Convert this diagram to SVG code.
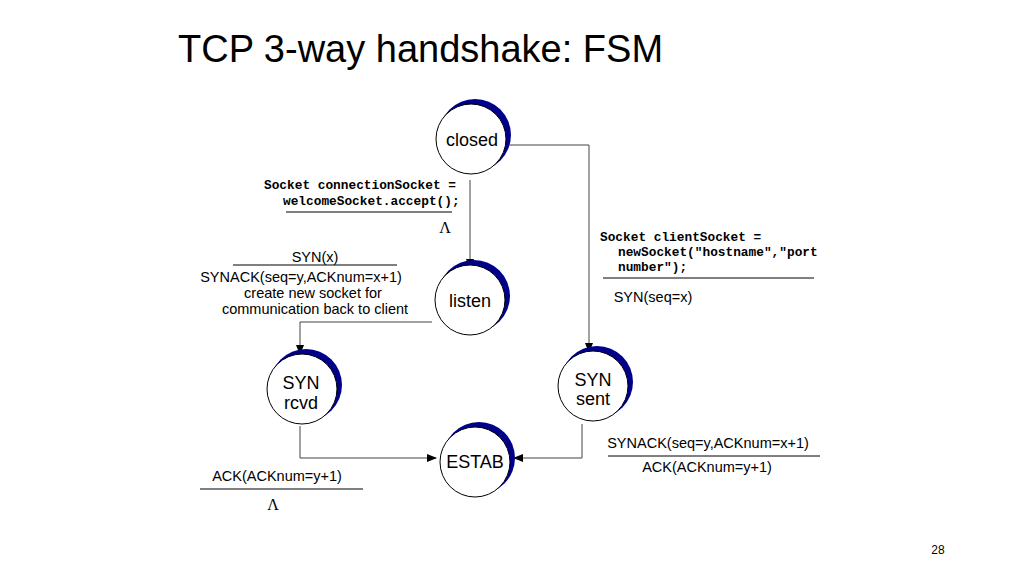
<svg xmlns="http://www.w3.org/2000/svg" width="1024" height="576" viewBox="0 0 1024 576">
<defs>
<marker id="ah" markerWidth="10" markerHeight="8" refX="9" refY="4" orient="auto" markerUnits="userSpaceOnUse"><path d="M0,0 L10,4 L0,8 z" fill="#000"/></marker>
</defs>
<style>
.sh{fill:#00008b}
.c{fill:#fff;stroke:#000;stroke-width:1}
.t{font-family:"Liberation Sans",Arial,sans-serif;font-size:18px;fill:#000;text-anchor:middle}
.l{font-family:"Liberation Sans",Arial,sans-serif;font-size:14.5px;fill:#000;text-anchor:middle}
.m{font-family:"Liberation Mono","Courier New",monospace;font-size:12.8px;font-weight:bold;fill:#000}
.ln{stroke:#000;stroke-width:1;fill:none}
.cn{stroke:#444;stroke-width:1;fill:none;marker-end:url(#ah)}
</style>
<rect width="1024" height="576" fill="#fff"/>
<text x="178" y="62" font-family="Liberation Sans,Arial,sans-serif" font-size="38" fill="#000">TCP 3-way handshake: FSM</text>
<g id="connectors">
<path class="cn" d="M506,145 H589 V352"/>
<path class="cn" d="M470,180 V268"/>
<path class="cn" d="M432,322 H300 V354"/>
<path class="cn" d="M300,426 V458 H436"/>
<path class="cn" d="M582,424 V458 H514"/>
</g>
<g id="closed"><circle class="sh" cx="475" cy="135" r="36"/><circle class="c" cx="471" cy="139" r="35"/><text class="t" x="472" y="146">closed</text></g>
<g id="listen"><circle class="sh" cx="474" cy="296" r="36"/><circle class="c" cx="470" cy="300" r="35"/><text class="t" x="470" y="307">listen</text></g>
<g id="synrcvd"><circle class="sh" cx="306" cy="385" r="36"/><circle class="c" cx="302" cy="389" r="35"/><text class="t" x="301" y="389">SYN</text><text class="t" x="301" y="409">rcvd</text></g>
<g id="synsent"><circle class="sh" cx="597" cy="382" r="36"/><circle class="c" cx="593" cy="386" r="35"/><text class="t" x="593" y="386">SYN</text><text class="t" x="593" y="405">sent</text></g>
<g id="estab"><circle class="sh" cx="479" cy="458" r="36"/><circle class="c" cx="475" cy="462" r="35"/><text class="t" x="475" y="468">ESTAB</text></g>
<g id="labels">
<text class="m" x="264" y="189">Socket connectionSocket =</text>
<text class="m" x="283" y="205">welcomeSocket.accept();</text>
<line class="ln" x1="286" y1="212" x2="452" y2="212"/>
<text x="445" y="233" font-family="Liberation Serif,serif" font-size="16" text-anchor="middle">Λ</text>
<text class="l" x="315" y="262">SYN(x)</text>
<line class="ln" x1="233" y1="265" x2="397" y2="265"/>
<text class="l" x="301" y="282">SYNACK(seq=y,ACKnum=x+1)</text>
<text class="l" x="313" y="298">create new socket for</text>
<text class="l" x="315" y="314">communication back to client</text>
<text class="m" x="600" y="241">Socket clientSocket =</text>
<text class="m" x="618" y="256">newSocket("hostname","port</text>
<text class="m" x="618" y="271">number");</text>
<line class="ln" x1="603" y1="278" x2="814" y2="278"/>
<text class="l" x="653" y="302">SYN(seq=x)</text>
<text class="l" x="708" y="448">SYNACK(seq=y,ACKnum=x+1)</text>
<line class="ln" x1="608" y1="456" x2="820" y2="456"/>
<text class="l" x="707" y="472">ACK(ACKnum=y+1)</text>
<text class="l" x="277" y="481">ACK(ACKnum=y+1)</text>
<line class="ln" x1="200" y1="489" x2="363" y2="489"/>
<text x="273" y="510" font-family="Liberation Serif,serif" font-size="16" text-anchor="middle">Λ</text>
<text x="938" y="554" font-family="Liberation Sans,Arial,sans-serif" font-size="12" text-anchor="middle">28</text>
</g>
</svg>
